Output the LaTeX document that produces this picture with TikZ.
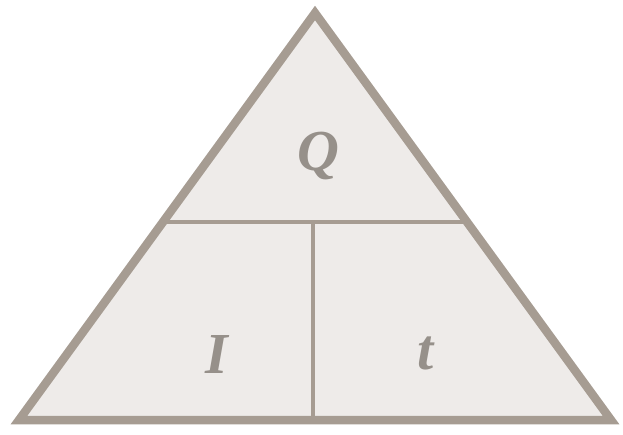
\documentclass[tikz,border=0pt]{standalone}
\usepackage{fontspec}
\setmainfont{Liberation Serif}
\definecolor{edge}{RGB}{166,156,146}
\definecolor{fillc}{RGB}{238,235,233}
\definecolor{txt}{RGB}{150,144,138}
\begin{document}
\begin{tikzpicture}[x=1pt,y=1pt,
  lbl/.style={text=txt,font=\fontsize{58}{62}\selectfont\bfseries\itshape,inner sep=0pt}]
\useasboundingbox (0,0) rectangle (623,434);
\fill[white] (0,0) rectangle (623,434);
\coordinate (A) at (315,421);
\coordinate (B) at (19,14);
\coordinate (C) at (611,14);
\coordinate (L) at (163,212);
\coordinate (R) at (467,212);
\coordinate (M) at (313,212);
\coordinate (Mb) at (313,14);
\filldraw[fill=fillc,draw=edge,line width=8.5pt,line join=miter] (A) -- (B) -- (C) -- cycle;
\draw[edge,line width=3.5pt] (L) -- (R);
\draw[edge,line width=3.5pt] (M) -- (Mb);
\node[lbl] (q) at (318,278) {Q};
\node[lbl] (i) at (217,79) {I};
\node[lbl] (t) at (426,81) {t};
\end{tikzpicture}
\end{document}
